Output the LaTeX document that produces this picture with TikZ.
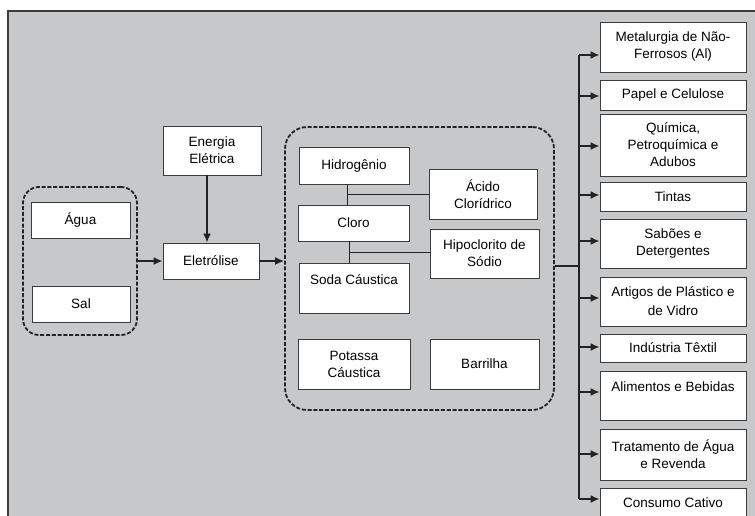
\documentclass[tikz,border=0pt]{standalone}
\usepackage{fontspec}
\setmainfont{Liberation Sans}
\usetikzlibrary{arrows.meta,calc}
\definecolor{bgc}{RGB}{199,200,202}
\definecolor{lnc}{RGB}{35,35,35}
\definecolor{bxc}{RGB}{60,60,60}
\begin{document}
\begin{tikzpicture}[x=1pt,y=-1pt,
 box/.style={draw=bxc, line width=0.9pt, fill=white, inner sep=0pt, align=center, font=\fontsize{13.5}{17}\selectfont},
 grp/.style={draw=lnc, line width=1.8pt, dash pattern=on 4pt off 1.8pt, rounded corners=16pt, inner sep=0pt},
 arr/.style={draw=lnc, line width=1.6pt, -{Latex[length=9pt,width=8pt]}},
 ln/.style={draw=lnc, line width=0.9pt},
 trunkline/.style={draw=lnc, line width=1.4pt}]
\useasboundingbox (0,0) rectangle (755,516);
\clip (0,0) rectangle (755,516);
\fill[bgc] (8,11) rectangle (760,520);
\draw[bxc, line width=1.2pt] (8,520) -- (8,11) -- (760,11);

% left group
\node[grp, minimum width=114pt, minimum height=148pt] (g1) at (80,261) {};
\node[box, minimum width=99pt, minimum height=36pt] (agua) at (80.5,220) {Água};
\node[box, minimum width=98pt, minimum height=36pt] (sal) at (81,304) {Sal};

\node[box, minimum width=98pt, minimum height=49pt] (en) at (212,150.5) {Energia\\Elétrica};
\node[box, minimum width=96pt, minimum height=36pt] (elet) at (211,261) {Eletrólise};

% big group
\node[grp, rounded corners=22pt, minimum width=269pt, minimum height=283pt] (g2) at (419.5,268.5) {};
\node[box, minimum width=110pt, minimum height=37pt] (hid) at (354,165.5) {Hidrogênio};
\node[box, minimum width=108pt, minimum height=50pt] (acido) at (483,194) {Ácido\\Clorídrico};
\node[box, minimum width=111pt, minimum height=36pt] (cloro) at (353.5,223) {Cloro};
\node[box, minimum width=109pt, minimum height=49pt] (hipo) at (484.5,253.5) {Hipoclorito de\\Sódio};
\node[box, minimum width=110pt, minimum height=50pt] (soda) at (354,288) {Soda Cáustica\\\mbox{}};
\node[box, minimum width=112pt, minimum height=50pt] (pot) at (354,364) {Potassa\\Cáustica};
\node[box, minimum width=109pt, minimum height=50pt] (barr) at (484.5,364) {Barrilha};

\coordinate (j1) at (347,194);
\coordinate (j2) at (349,252);
\draw[ln] (j1 |- hid.south) -- (j1 |- cloro.north);
\draw[ln] (j1) -- (j1 -| acido.west);
\draw[ln] (j2 |- cloro.south) -- (j2 |- soda.north);
\draw[ln] (j2) -- (j2 -| hipo.west);

% right column
\node[box, minimum width=146pt, minimum height=50pt] (m1) at (673,47) {Metalurgia de Não-\\Ferrosos (Al)};
\node[box, minimum width=146pt, minimum height=30pt] (m2) at (673,95) {Papel e Celulose};
\node[box, minimum width=146pt, minimum height=62pt] (m3) at (673,145) {Química,\\Petroquímica e\\Adubos};
\node[box, minimum width=146pt, minimum height=29pt] (m4) at (673,196.5) {Tintas};
\node[box, minimum width=146pt, minimum height=49pt] (m5) at (673,243.5) {Sabões e\\Detergentes};
\node[box, minimum width=146pt, minimum height=49pt] (m6) at (673,301.5) {Artigos de Plástico e\\[2pt]de Vidro};
\node[box, minimum width=146pt, minimum height=28pt] (m7) at (673,348) {Indústria Têxtil};
\node[box, minimum width=146pt, minimum height=49pt] (m8) at (673,395.5) {Alimentos e Bebidas\\\mbox{}};
\node[box, minimum width=146pt, minimum height=51pt] (m9) at (673,454.5) {Tratamento de Água\\e Revenda};
\node[box, minimum width=146pt, minimum height=30pt] (m10) at (673,503) {Consumo Cativo};

% connectors
\draw[arr] (g1.east |- elet) -- (elet.west);
\draw[arr] ([xshift=-5pt]en.south) -- ([xshift=-5pt]en.south |- elet.north);
\draw[arr] (elet.east) -- (g2.west |- elet);

\coordinate (t0) at (579,266);
\coordinate (t1) at (579,55);
\coordinate (t2) at (579,96);
\coordinate (t3) at (579,146);
\coordinate (t4) at (579,195);
\coordinate (t5) at (579,241);
\coordinate (t6) at (579,298);
\coordinate (t7) at (579,347);
\coordinate (t8) at (579,392);
\coordinate (t9) at (579,454);
\coordinate (t10) at (579,499);
\draw[trunkline] (g2.east |- t0) -- (t0);
\draw[trunkline] (t1) -- (t10);
\foreach \i in {1,...,10} {
  \draw[arr] (t\i) -- (t\i -| m\i.west);
}
\end{tikzpicture}
\end{document}
